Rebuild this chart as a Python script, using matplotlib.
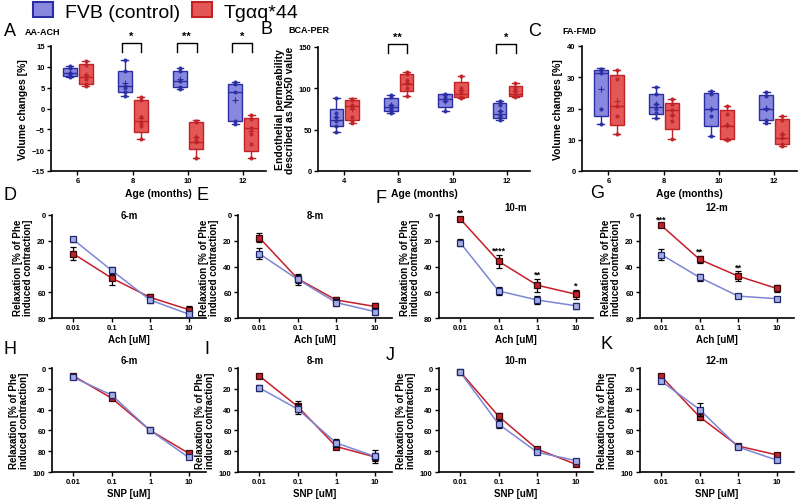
import numpy as np
import matplotlib
matplotlib.use("Agg")
import matplotlib.pyplot as plt
from matplotlib.patches import Patch
import matplotlib.transforms as mtransforms

plt.rcParams["font.family"] = ["Liberation Sans", "DejaVu Sans"]
plt.rcParams["font.weight"] = "bold"
plt.rcParams["axes.labelweight"] = "bold"

# ---------------------------------------------------------------------------
# data
# ---------------------------------------------------------------------------
ages_aa = ["6", "8", "10", "12"]
ages_bca = ["4", "8", "10", "12"]
ages_fa = ["6", "8", "10", "12"]

# box stats per age: [min, q1, median, q3, max, mean]
aa_fvb = [[7.5, 7.8, 8.5, 9.7, 10.2, 8.6], [3.1, 3.9, 5.3, 8.9, 11.7, 6.1],
          [4.7, 5.2, 6.6, 9.0, 9.8, 7.0], [-3.8, -3.0, 4.0, 6.0, 6.4, 2.0]]
aa_tg = [[5.4, 6.0, 7.5, 10.6, 11.5, 8.0], [-7.3, -5.7, -3.0, 2.1, 2.7, -2.3],
         [-11.8, -9.8, -8.0, -3.2, -2.8, -6.9], [-11.9, -10.1, -4.6, -2.3, -1.5, -5.5]]
aa_fvb_pts = [[10.2, 9.7, 8.6, 8.3, 7.6], [11.7, 8.9, 5.3, 5.0, 3.9, 3.1],
              [9.8, 9.0, 6.6, 5.2, 4.7], [6.4, 6.0, 4.0, -3.0, -3.8]]
aa_tg_pts = [[11.5, 10.5, 8.1, 7.1, 5.9, 5.4], [2.7, 2.0, -2.1, -3.4, -4.3, -7.3],
             [-2.9, -3.3, -6.9, -7.9, -8.0, -11.8], [-1.6, -2.5, -4.6, -6.0, -8.4, -11.9]]
aa_sig = ["", "*", "**", "*"]

bca_fvb = [[47, 54, 62, 75, 88, 65], [70, 72, 78, 88, 92, 80],
           [72, 78, 87, 93, 93, 85], [62, 64, 69, 82, 85, 72]]
bca_tg = [[58, 62, 79, 86, 88, 75], [91, 97, 105, 117, 120, 107],
          [88, 90, 93, 108, 115, 98], [90, 91, 93, 103, 107, 97]]
bca_fvb_pts = [[88, 70, 65, 60, 55, 47], [92, 90, 80, 77, 75, 72, 70],
               [93, 92, 88, 85, 72], [85, 80, 72, 68, 65, 62]]
bca_tg_pts = [[87, 86, 80, 78, 65, 60, 58], [120, 117, 110, 106, 100, 91],
              [115, 100, 95, 90, 88], [107, 100, 97, 92, 90]]
bca_sig = ["", "**", "", "*"]

fa_fvb = [[15.2, 17.5, 31.5, 32.4, 33.0, 26.2], [17.0, 18.4, 20.4, 24.5, 27.0, 21.5],
          [11.3, 14.5, 20.0, 24.9, 25.6, 19.8], [15.5, 16.2, 19.7, 24.4, 25.2, 20.2]]
fa_tg = [[11.7, 14.7, 20.7, 30.8, 32.2, 22.3], [10.3, 13.3, 19.4, 21.7, 23.0, 17.8],
         [9.8, 10.2, 14.5, 19.4, 20.9, 14.8], [8.1, 8.6, 10.5, 16.7, 17.5, 12.0]]
fa_fvb_pts = [[32.8, 32.4, 31.5, 19.7, 15.2], [27, 24.8, 21.3, 19.7, 18.5, 17],
              [25.6, 24.5, 20, 17.5, 11.3], [25.2, 24, 19.7, 16.3, 15.5]]
fa_tg_pts = [[32.2, 29.5, 20.7, 17.5, 11.7], [23, 21.5, 19.5, 17.8, 16, 10.3],
             [20.9, 18.2, 14.6, 10.2, 9.8], [17.5, 16.2, 12, 10.5, 8.5, 8.1]]
fa_sig = ["", "", "", ""]

conc = [0.01, 0.1, 1, 10]
conc_labels = ["0.01", "0.1", "1", "10"]
month_titles = ["6-m", "8-m", "10-m", "12-m"]

ach_fvb = [[19, 43, 66, 77], [30, 50, 68, 75], [21.5, 59, 66, 70.5], [30.7, 48.5, 63, 65]]
ach_fvb_err = [[2, 3, 2, 2], [4, 4, 3, 2.5], [2.5, 3, 3, 2.5], [4.5, 3, 1.5, 1.5]]
ach_tg = [[30, 49, 64, 73.5], [17.5, 49.5, 66, 71], [3, 36, 54.5, 61.5], [8, 34.5, 47.5, 57]]
ach_tg_err = [[5, 5, 3, 3], [3.5, 3, 2, 3], [1.5, 5, 5, 3.5], [1.5, 3, 4, 3]]
ach_sig = [["", "", "", ""], ["", "", "", ""],
           ["**", "****", "**", "*"], ["***", "**", "**", ""]]

snp_fvb = [[9, 26, 60, 86], [19, 39.5, 72, 85], [4, 54, 81, 89], [12.5, 40, 76, 88.5]]
snp_fvb_err = [[2, 3, 1, 1.5], [3, 5, 4, 6], [1, 4, 1.5, 1], [2, 6, 1, 2]]
snp_tg = [[7.5, 29, 60, 82], [7.5, 37, 75.5, 85.5], [3.5, 46.5, 78, 92.5], [8, 47, 75, 83.5]]
snp_tg_err = [[1, 2, 1, 1.5], [1, 5, 2, 4], [1, 3, 1, 1], [1, 2, 1, 1]]
snp_sig = [["", "", "", ""]] * 4

# ---------------------------------------------------------------------------
# styling
# ---------------------------------------------------------------------------
BLUE_FACE = (0.45, 0.46, 0.85, 0.85)
BLUE_EDGE = "#2b2ea3"
RED_FACE = (0.88, 0.27, 0.27, 0.9)
RED_EDGE = "#c02226"
LINE_BLUE = "#7d86d4"
MK_BLUE = "#a4ade2"
LINE_RED = "#c61f2a"
MK_RED = "#c0222c"

W, H = 800, 502
fig = plt.figure(figsize=(W / 100, H / 100), dpi=100)


def rect(l, t, r, b):
    return [l / W, 1 - b / H, (r - l) / W, (b - t) / H]


def style(ax):
    for s in ["top", "right"]:
        ax.spines[s].set_visible(False)
    for s in ["left", "bottom"]:
        ax.spines[s].set_linewidth(1.2)
    ax.tick_params(length=3, width=1, labelsize=5.5, pad=1.5)


def box_panel(ax, fvb, tg, fvb_pts, tg_pts, labels, sig, ylim, yticks, ylabel):
    pos = np.arange(len(labels))
    for stats, pts, off, face, edge in [(fvb, fvb_pts, -0.14, BLUE_FACE, BLUE_EDGE),
                                        (tg, tg_pts, 0.15, RED_FACE, RED_EDGE)]:
        bstats = [dict(whislo=s[0], q1=s[1], med=s[2], q3=s[3], whishi=s[4],
                       mean=s[5], fliers=[]) for s in stats]
        ax.bxp(bstats, positions=pos + off, widths=0.25, patch_artist=True,
               showmeans=True, manage_ticks=False,
               boxprops=dict(facecolor=face, edgecolor=edge, lw=1),
               whiskerprops=dict(color=edge, lw=1),
               capprops=dict(color=edge, lw=1),
               medianprops=dict(color=edge, lw=1),
               meanprops=dict(marker="+", markeredgecolor=edge, markersize=4,
                              markeredgewidth=0.8))
        for p, vals in zip(pos + off, pts):
            ax.plot([p] * len(vals), vals, "o", ms=2.0, color=edge, alpha=0.85,
                    zorder=4)
    trans = mtransforms.blended_transform_factory(ax.transData, ax.transAxes)
    for i, s in enumerate(sig):
        if not s:
            continue
        x0, x1 = pos[i] - 0.2, pos[i] + 0.16
        ax.plot([x0, x0, x1, x1], [0.955, 1.025, 1.025, 0.955], color="black",
                lw=1, transform=trans, clip_on=False)
        ax.text((x0 + x1) / 2, 1.04, s, ha="center", va="bottom", fontsize=8,
                transform=trans)
    ax.set_xlim(-0.48, 3.42)
    ax.set_ylim(*ylim)
    ax.set_yticks(yticks)
    ax.set_xticks(pos)
    ax.set_xticklabels(labels)
    ax.set_xlabel("Age (months)", fontsize=7.5, labelpad=3)
    ax.set_ylabel(ylabel, fontsize=7.5, labelpad=3)
    style(ax)


def line_panel(ax, fvb, fvb_err, tg, tg_err, sig, title, xlabel, ymax, title_off):
    ax.errorbar(conc, tg, yerr=tg_err, color=LINE_RED, lw=1.1, marker="s", ms=4.5,
                mfc=MK_RED, mec="#3a0608", mew=0.9, ecolor="black", elinewidth=0.9,
                capsize=2, capthick=0.9, zorder=3)
    ax.errorbar(conc, fvb, yerr=fvb_err, color=LINE_BLUE, lw=1.1, marker="s", ms=4.5,
                mfc=MK_BLUE, mec="#1f2770", mew=0.9, ecolor="black", elinewidth=0.9,
                capsize=2, capthick=0.9, zorder=4)
    for c, s, v, e in zip(conc, sig, tg, tg_err):
        if s:
            ax.text(c, v - e - 1.5, s, ha="center", va="baseline", fontsize=6.5,
                    clip_on=False)
    ax.set_xscale("log")
    ax.set_xlim(10 ** -2.55, 10 ** 1.45)
    ax.set_xticks(conc)
    ax.set_xticklabels(conc_labels)
    ax.minorticks_off()
    ax.set_ylim(ymax, 0)
    ax.set_yticks(np.arange(0, ymax + 1, 20))
    ax.set_xlabel(xlabel, fontsize=7, labelpad=2)
    ax.set_ylabel("Relaxation [% of Phe\ninduced contraction]", fontsize=7,
                  labelpad=3, linespacing=1.0)
    ax.text(0.5, 1.0 + title_off, title, transform=ax.transAxes, ha="center",
            va="center", fontsize=7)
    style(ax)


# ---------------------------------------------------------------------------
# top row: box plots
# ---------------------------------------------------------------------------
ax_a = fig.add_axes(rect(51, 47, 266, 172))
box_panel(ax_a, aa_fvb, aa_tg, aa_fvb_pts, aa_tg_pts, ages_aa, aa_sig,
          (-15, 15), np.arange(-15, 16, 5), "Volume changes [%]")
ax_b = fig.add_axes(rect(318, 48, 530, 172))
box_panel(ax_b, bca_fvb, bca_tg, bca_fvb_pts, bca_tg_pts, ages_bca, bca_sig,
          (0, 150), [0, 50, 100, 150],
          "Endothelial permeability\ndescribed as Npx50 value")
ax_b.yaxis.label.set_linespacing(1.0)
ax_c = fig.add_axes(rect(582, 47, 797, 172))
box_panel(ax_c, fa_fvb, fa_tg, fa_fvb_pts, fa_tg_pts, ages_fa, fa_sig,
          (0, 40), [0, 10, 20, 30, 40], "Volume changes [%]")

fig.text(25 / W, 1 - 33 / H, "AA-ACH", fontsize=6.5, va="center")
fig.text(288 / W, 1 - 31 / H, "BCA-PER", fontsize=6.5, va="center")
fig.text(562 / W, 1 - 32 / H, "FA-FMD", fontsize=6.5, va="center")

# ---------------------------------------------------------------------------
# middle (Ach) and bottom (SNP) rows
# ---------------------------------------------------------------------------
lefts = [52, 238, 439, 640]
ach_title_off = [0.0, 0.0, 0.08, 0.08]
for i, l in enumerate(lefts):
    ax = fig.add_axes(rect(l, 216, l + 154, 319))
    line_panel(ax, ach_fvb[i], ach_fvb_err[i], ach_tg[i], ach_tg_err[i],
               ach_sig[i], month_titles[i], "Ach [uM]", 80, ach_title_off[i])
    ax = fig.add_axes(rect(l, 369, l + 154, 473))
    line_panel(ax, snp_fvb[i], snp_fvb_err[i], snp_tg[i], snp_tg_err[i],
               snp_sig[i], month_titles[i], "SNP [uM]", 100, 0.08)

# panel letters
letters = [("A", 10, 32), ("B", 267, 30), ("C", 535, 32), ("D", 10, 195),
           ("E", 203, 195), ("F", 381, 199), ("G", 597, 193), ("H", 10, 350),
           ("I", 207, 350), ("J", 390, 355), ("K", 607, 345)]
for t, x, y in letters:
    fig.text(x / W, 1 - y / H, t, fontsize=13, fontweight="normal",
             ha="center", va="center")

# legend
handles = [Patch(facecolor=BLUE_FACE, edgecolor=BLUE_EDGE, lw=1.5, label="FVB (control)"),
           Patch(facecolor=RED_FACE, edgecolor=RED_EDGE, lw=1.5, label="Tgαq*44")]
fig.legend(handles=handles, loc="upper left", bbox_to_anchor=(31 / W, 0.997),
           ncol=2, frameon=False, prop=dict(size=14, weight="normal"),
           handlelength=1.05, handleheight=0.8, handletextpad=0.6,
           columnspacing=0.6, borderaxespad=0, borderpad=0.1)

fig.savefig("out.png", dpi=100)
